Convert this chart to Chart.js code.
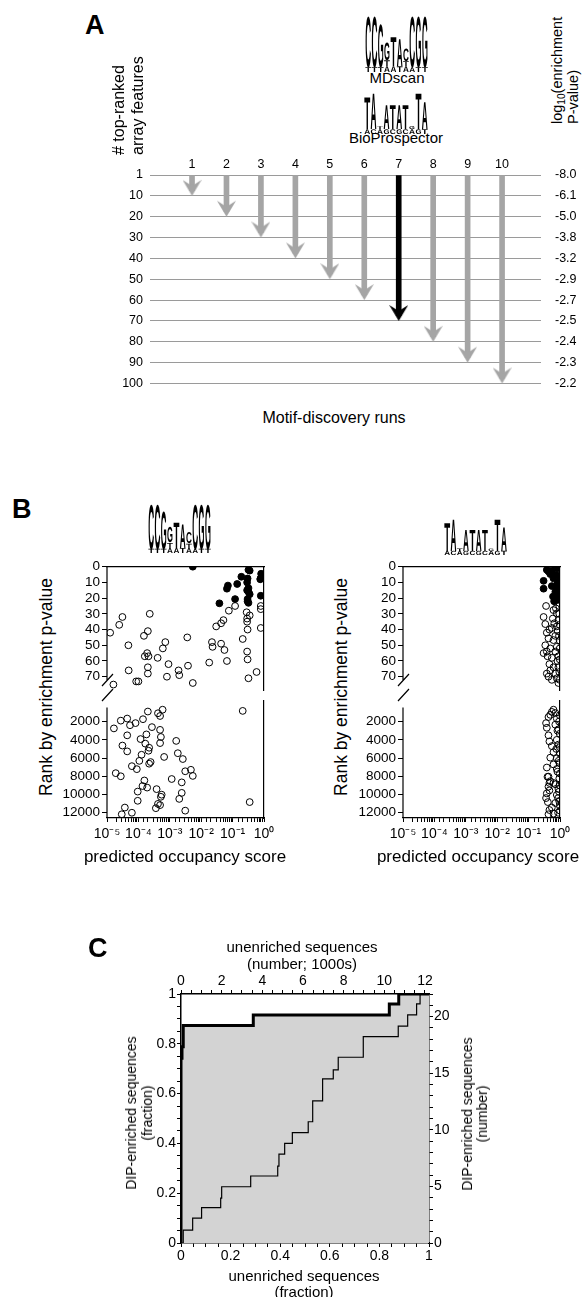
<!DOCTYPE html>
<html><head><meta charset="utf-8">
<script src="https://cdn.jsdelivr.net/npm/chart.js@4.4.1/dist/chart.umd.min.js"></script>
<style>
html,body{margin:0;padding:0;background:#fff;overflow:hidden;}
#page{position:relative;width:582px;height:1297px;font-family:"Liberation Sans",Arial,sans-serif;color:#000;}
canvas{position:absolute;}
.t{position:absolute;white-space:pre;}
.t sub{font-size:0.7em;line-height:0;vertical-align:-0.3em;}
svg.logo{filter:grayscale(1);-webkit-font-smoothing:antialiased;}
</style></head><body><div id="page"></div>
<script>
// ---------------- DATA ----------------
// Panel A
const runs = [1,2,3,4,5,6,7,8,9,10];
const rankTicks = [1,10,20,30,40,50,60,70,80,90,100];
const pValueLabels = ['-8.0','-6.1','-5.0','-3.8','-3.2','-2.9','-2.7','-2.5','-2.4','-2.3','-2.2'];
const arrowEndRank = [10,20,30,40,50,60,70,80,90,100];
const bestRun = 7;

// Panel B  [predicted occupancy score, rank by enrichment p-value]
const rankTicksTop = [0,10,20,30,40,50,60,70];
const rankTicksBottom = [2000,4000,6000,8000,10000,12000];
const mdFilled = [[0.0054,0],[0.32,2],[0.35,2.5],[0.81,4.5],[0.78,7.5],[0.19,6.4],[0.29,10],[0.30,7.5],[0.14,11],[0.071,12],[0.066,14],[0.32,13.6],[0.32,16],[0.35,17.5],[0.12,20.6],[0.30,20.6],[0.30,22],[0.32,23],[0.038,23.3],[0.79,18.5],[0.76,8],[0.29,15]];
const mdOpenTop = [[1.26e-5,42],[2.45e-5,37],[3.1e-5,32],[2.3e-4,30],[4.8e-5,50],[1.5e-4,44],[2.0e-4,41],[4.9e-5,66],[1.9e-4,55],[2.1e-4,57],[1.6e-4,57],[2.0e-4,64],[2.0e-4,68],[8.5e-5,73],[1.0e-4,73],[1.6e-5,75],[4.1e-4,58],[6.0e-4,52],[7.2e-4,48],[9.1e-4,62],[8.1e-4,70],[1.9e-3,66],[2.0e-3,69],[3.6e-3,45],[3.8e-3,63],[5.4e-3,74],[0.018,61],[0.022,48],[0.023,51],[0.043,49],[0.055,53],[0.066,60],[0.030,38],[0.043,36],[0.051,34],[0.076,28],[0.12,25],[0.21,46],[0.28,29],[0.29,33],[0.35,31],[0.29,35],[0.30,40],[0.29,54],[0.30,59],[0.32,71],[0.58,67],[0.79,25],[0.79,27],[0.79,39]];
const mdOpenBottom = [[0.21,830],[2.0e-4,900],[5.9e-4,700],[4.2e-4,1090],[4.9e-4,1390],[2.75e-5,1900],[4.4e-5,1670],[5.4e-5,2400],[8.1e-5,2170],[1.4e-4,1740],[1.66e-5,2750],[2.7e-4,2610],[4.9e-4,2910],[4.4e-5,3510],[1.8e-4,3410],[5.2e-4,3690],[4.9e-4,4360],[1.17e-4,3920],[1.66e-4,4420],[2.2e-4,4870],[2.1e-4,5200],[3.1e-5,4630],[4.4e-5,5270],[1.6e-3,4120],[1.8e-3,5470],[2.6e-3,6110],[6.6e-4,5880],[1.26e-4,5640],[1.07e-4,6310],[2.45e-4,6440],[2.2e-4,6620],[6.2e-5,6890],[8.9e-5,7220],[1.9e-5,7660],[2.75e-5,8000],[3.1e-3,7450],[4.7e-3,7290],[5.4e-3,7960],[1.15e-3,8300],[2.4e-3,8670],[1.55e-4,8460],[1.35e-4,9070],[1.9e-4,9240],[9.5e-5,9680],[3.8e-4,9410],[5.5e-4,10020],[5.2e-4,10250],[2.4e-3,9820],[9.5e-5,10690],[4.2e-4,11030],[4.9e-4,11160],[3.6e-4,11500],[3.7e-5,11430],[2.95e-5,12170],[6.2e-5,12000],[3.1e-3,11770],[2.0e-3,10480],[0.35,10830]];
const bioFilled = [[0.38,2],[0.43,3],[0.49,4.7],[0.55,2.5],[0.71,1],[0.89,1],[0.79,5.3],[0.62,7.4],[0.89,9.5],[0.76,12.7],[0.55,12.3],[0.95,14.9],[0.71,16],[0.98,18],[0.79,20],[0.89,21],[0.65,22],[0.30,9],[0.30,14],[1.0,6.4],[0.98,0],[0.83,11],[0.60,19]];
const bioOpenTop = [[0.36,25],[0.30,32],[0.34,36.5],[0.46,40],[0.38,42],[0.55,39],[0.79,38],[0.71,44],[0.43,45.6],[0.62,46.7],[0.34,50],[0.49,52],[0.79,51],[0.38,54],[0.30,55],[0.40,57],[0.55,58],[0.89,57],[0.46,62],[0.62,64],[0.49,66],[0.38,68],[0.43,70],[0.71,68],[0.79,71],[0.55,72],[0.89,74],[0.62,27.6],[0.79,29.7],[0.89,34],[0.95,30],[0.74,26.5],[0.59,33],[0.85,41],[0.98,47],[0.71,54],[0.98,59],[0.89,64],[0.95,25],[0.98,37],[0.93,44],[0.98,52],[0.95,67],[0.98,72],[0.83,60],[0.66,36]];
const bioOpenBottom = [[0.62,700],[0.55,940],[0.71,1060],[0.49,1260],[0.43,1500],[0.36,2170],[0.38,2680],[0.71,2340],[0.79,1670],[0.89,2850],[0.43,3510],[0.98,3340],[0.46,4180],[0.79,4010],[0.55,4690],[0.89,4530],[0.62,5360],[1.0,5530],[0.49,5960],[0.79,6030],[0.95,6530],[0.62,6700],[0.38,7040],[0.79,7200],[0.43,8040],[0.49,8540],[0.98,7700],[0.71,8880],[0.89,9380],[0.46,9550],[0.36,10390],[0.38,9880],[0.79,10050],[0.40,8060],[0.46,8730],[0.62,8730],[0.43,9140],[0.95,8230],[0.95,10760],[0.41,10830],[0.71,10930],[0.55,11430],[0.46,11700],[1.0,11770],[0.62,12100],[0.43,12170],[0.98,1300],[0.93,2000],[0.98,4800],[0.91,6300],[0.98,9000],[0.93,9700],[0.98,11200],[0.87,12000],[0.83,3000],[0.76,5000],[0.83,7500],[0.87,10400]];

// Panel C (cumulative fraction of DIP-enriched vs fraction of unenriched sequences)
const thickFracX = [0, 0, 0.004, 0.009, 0.2915, 0.84, 0.878, 1];
const thickFracY = [0, 0.742, 0.788, 0.873, 0.916, 0.96, 1.0, 1.0];
const thinFracX = [0, 0.009, 0.047, 0.083, 0.16, 0.164, 0.281, 0.39, 0.395, 0.418, 0.449, 0.513, 0.531, 0.571, 0.614, 0.634, 0.735, 0.876, 0.914, 0.950, 0.964, 1];
const thinFracY = [0, 0.052, 0.10, 0.142, 0.18, 0.226, 0.269, 0.309, 0.357, 0.40, 0.443, 0.487, 0.571, 0.659, 0.695, 0.746, 0.829, 0.871, 0.916, 0.960, 1.0, 1.0];
const fracTickLabels = [0, 0.2, 0.4, 0.6, 0.8, 1];
const numberTickLabels = [0, 2, 4, 6, 8, 10, 12];
const countTickLabels = [0, 5, 10, 15, 20];
const unenrichedThousands = 12.2;
const enrichedTotal = 22;

// Sequence logos (columns, bottom to top: [letter, height])
const mdscanLogo = [
  [['T',5],['C',52]], [['T',5],['C',52]], [['T',5],['G',44]],
  [['A',6],['T',6],['G',18]], [['A',6],['T',30]], [['T',6],['A',28]],
  [['A',6],['T',5],['C',13]], [['A',5],['C',52]], [['T',5],['G',52]], [['T',5],['G',52]]
];
const bioLogo = [
  [['A',5],['T',33]], [['C',5],['A',37]], [['A',5],['T',3]], [['G',5],['A',25]],
  [['C',5],['T',25]], [['G',5],['A',25]], [['C',5],['T',25]], [['A',5],['G',3]],
  [['G',5],['T',37]], [['T',5],['A',28]]
];

// ---------------- HELPERS ----------------
const FONT = '"Liberation Sans", Arial, sans-serif';
Chart.defaults.font.family = FONT;
Chart.defaults.color = '#000';
Chart.defaults.animation = false;
const page = document.getElementById('page');

function addCanvas(left, top, w, h) {
  const c = document.createElement('canvas');
  c.width = w; c.height = h;
  c.style.left = left + 'px'; c.style.top = top + 'px';
  c.style.width = w + 'px'; c.style.height = h + 'px';
  page.appendChild(c);
  return c;
}
function txt(html, o) {
  const d = document.createElement('div');
  d.className = 't';
  d.innerHTML = html;
  d.style.fontSize = o.size + 'px';
  d.style.lineHeight = (o.lh || o.size * 1.15) + 'px';
  if (o.bold) d.style.fontWeight = 'bold';
  d.style.left = o.x + 'px'; d.style.top = o.y + 'px';
  d.style.textAlign = o.align || 'center';
  if (o.mode === 'c') d.style.transform = 'translate(-50%,-50%)';
  else if (o.mode === 'rc') d.style.transform = 'translate(-50%,-50%) rotate(-90deg)';
  else if (o.mode === 'rs') { d.style.transformOrigin = '0 0'; d.style.transform = 'rotate(-90deg)'; }
  page.appendChild(d);
}
function logo(cols, x, y, w, h, unitH) {
  const cw = w / cols.length, s = h / unitH;
  let out = `<svg class="logo" xmlns="http://www.w3.org/2000/svg" width="${w}" height="${h}" style="position:absolute;left:${x}px;top:${y}px;overflow:visible" font-family='${FONT}' font-weight="bold" fill="#000" text-rendering="geometricPrecision">`;
  cols.forEach((col, i) => {
    let yb = h;
    col.forEach(([ch, ht]) => {
      const hh = ht * s;
      out += `<text x="0" y="0" font-size="10" fill="#000" textLength="${(cw * 0.94).toFixed(2)}" lengthAdjust="spacingAndGlyphs" transform="translate(${(i * cw + cw * 0.03).toFixed(2)},${yb.toFixed(2)}) scale(1,${(hh / 7.2).toFixed(3)})">${ch}</text>`;
      yb -= hh;
    });
  });
  out += '</svg>';
  const d = document.createElement('div');
  d.innerHTML = out;
  page.appendChild(d);
}
function arrowHead(color) {
  const c = document.createElement('canvas');
  const w = 19, h = 16;
  c.width = w; c.height = h * 2 + 2;
  const g = c.getContext('2d');
  const tip = h + 1;
  g.fillStyle = color;
  g.beginPath();
  g.moveTo(0, tip - h);
  g.lineTo(w / 2, tip - h + 6);
  g.lineTo(w, tip - h);
  g.lineTo(w / 2, tip);
  g.closePath();
  g.fill();
  return c;
}
const sup = {'-':'⁻','0':'⁰','1':'¹','2':'²','3':'³','4':'⁴','5':'⁵','6':'⁶','7':'⁷','8':'⁸','9':'⁹'};
function logLabel(v) {
  const e = Math.log10(v), r = Math.round(e);
  return Math.abs(e - r) < 1e-6 ? '10' + String(r).split('').map(c => sup[c]).join('') : '';
}
const near = (arr, v) => arr.some(t => Math.abs(t - v) < 1e-6);

// ---------------- PANEL A ----------------
const GREY = '#a5a5a5';
const headGrey = arrowHead(GREY), headBlack = arrowHead('#000');
const endIdx = arrowEndRank.map(r => rankTicks.indexOf(r));
new Chart(addCanvas(0, 150, 582, 255), {
  type: 'bar',
  data: {
    datasets: [
      {
        type: 'bar',
        data: runs.map((r, i) => ({x: r, y: [0, endIdx[i] - 0.25]})),
        backgroundColor: runs.map(r => r === bestRun ? '#000' : GREY),
        barThickness: 5,
        order: 1
      },
      {
        type: 'scatter',
        data: runs.map((r, i) => ({x: r, y: endIdx[i]})),
        pointStyle: runs.map(r => r === bestRun ? headBlack : headGrey),
        pointRadius: 5,
        order: 0
      }
    ]
  },
  options: {
    responsive: false,
    layout: {padding: {top: 0, bottom: 10, left: 0, right: 0}},
    plugins: {legend: {display: false}, tooltip: {enabled: false}},
    scales: {
      x: {
        type: 'linear', position: 'top', min: -0.22, max: 11.13, offset: false,
        grid: {display: false, drawTicks: false, offset: false}, border: {display: false},
        afterBuildTicks: s => { s.ticks = runs.map(v => ({value: v})); },
        ticks: {font: {size: 12.5}, padding: 3, autoSkip: false, maxRotation: 0},
        afterFit: s => { s.height = 25; }
      },
      y: {
        type: 'linear', position: 'left', min: 0, max: rankTicks.length - 1, reverse: true,
        grid: {color: '#9a9a9a', drawTicks: false}, border: {display: false},
        ticks: {stepSize: 1, font: {size: 12.5}, padding: 7, callback: v => rankTicks[v]},
        afterFit: s => { s.width = 150; }
      },
      y2: {
        type: 'linear', position: 'right', min: 0, max: rankTicks.length - 1, reverse: true,
        grid: {display: false, drawTicks: false}, border: {display: false},
        ticks: {stepSize: 1, font: {size: 12.5}, padding: 14, callback: v => pValueLabels[v]},
        afterFit: s => { s.width = 41; }
      }
    }
  }
});

// ---------------- PANEL B ----------------
const breakPlugin = {
  id: 'axisBreak',
  afterDraw(chart, args, opts) {
    const {ctx, chartArea: a} = chart;
    const y = chart.scales.y;
    const y0 = opts.from == null ? a.top : y.getPixelForValue(opts.from);
    const y1 = opts.to == null ? a.bottom : y.getPixelForValue(opts.to);
    ctx.save();
    ctx.strokeStyle = '#000'; ctx.lineWidth = 1.2;
    ctx.beginPath();
    ctx.moveTo(a.left, y0); ctx.lineTo(a.left, y1);
    if (opts.marks) {
      ctx.moveTo(a.left - 5, y1 + 6); ctx.lineTo(a.left + 6, y1 - 6);
      ctx.moveTo(a.left - 5, y1 + 21); ctx.lineTo(a.left + 6, y1 + 9);
    }
    ctx.stroke();
    ctx.restore();
  }
};
const openStyle = {pointStyle: 'circle', pointRadius: 3.4, pointBorderWidth: 1, pointBorderColor: '#000', pointBackgroundColor: 'rgba(255,255,255,0)', showLine: false};
const filledStyle = {pointStyle: 'circle', pointRadius: 3.4, pointBorderWidth: 1, pointBorderColor: '#000', pointBackgroundColor: '#000', showLine: false};
const toXY = arr => arr.map(p => ({x: p[0], y: p[1]}));
const rightBorder = {type: 'linear', position: 'right', min: 0, max: 1, ticks: {display: false}, grid: {display: false}, border: {display: true, color: '#000', width: 1.2}, afterFit: s => { s.width = 22; }};
const leftAxisB = (ticks, min, max) => ({
  type: 'linear', position: 'left', min, max, reverse: true,
  afterBuildTicks: s => { s.ticks = ticks.map(v => ({value: v})); },
  ticks: {callback: v => String(v), font: {size: 13.5}, padding: 2, autoSkip: false},
  grid: {drawOnChartArea: false, tickLength: 5, color: '#000'}, border: {display: false},
  afterFit: s => { s.width = 47; }
});

function rankPanel(left, filled, openTop, openBottom) {
  new Chart(addCanvas(left, 556, 226, 150), {
    type: 'scatter',
    data: {datasets: [{data: toXY(openTop), ...openStyle}, {data: toXY(filled), ...filledStyle}]},
    options: {
      responsive: false,
      layout: {padding: {top: 0, bottom: 16, left: 0, right: 0}},
      plugins: {legend: {display: false}, tooltip: {enabled: false}, axisBreak: {to: 72.1, marks: true}},
      scales: {
        x: {type: 'logarithmic', position: 'top', min: 1e-5, max: 1, ticks: {display: false}, grid: {display: false}, border: {display: true, color: '#000', width: 1.2}, afterFit: s => { s.height = 10.7; }},
        y: leftAxisB(rankTicksTop, 0, 78.46),
        yr: rightBorder
      }
    },
    plugins: [breakPlugin]
  });
  new Chart(addCanvas(left, 690, 226, 162), {
    type: 'scatter',
    data: {datasets: [{data: toXY(openBottom), ...openStyle}]},
    options: {
      responsive: false,
      layout: {padding: 0},
      plugins: {legend: {display: false}, tooltip: {enabled: false}, axisBreak: {from: 455}},
      scales: {
        x: {
          type: 'logarithmic', position: 'bottom', min: 1e-5, max: 1,
          ticks: {callback: logLabel, font: {size: 14}, padding: 4, autoSkip: false, maxRotation: 0},
          grid: {drawOnChartArea: false, tickLength: 4, color: '#000'},
          border: {display: true, color: '#000', width: 1.2},
          afterFit: s => { s.height = 34; }
        },
        y: leftAxisB(rankTicksBottom, -354, 12576),
        yr: rightBorder
      }
    },
    plugins: [breakPlugin]
  });
}
rankPanel(60, mdFilled, mdOpenTop, mdOpenBottom);
rankPanel(356, bioFilled, bioOpenTop, bioOpenBottom);

// ---------------- PANEL C ----------------
const axisC = {grid: {drawOnChartArea: false, tickLength: 4, color: '#000'}, border: {display: true, color: '#000', width: 1.5}};
new Chart(addCanvas(90, 920, 440, 377), {
  type: 'line',
  data: {
    datasets: [
      {data: thickFracX.map((x, i) => ({x, y: thickFracY[i]})), stepped: true, borderColor: '#000', borderWidth: 3, pointRadius: 0, fill: 'origin', backgroundColor: '#d3d3d3', order: 0},
      {data: thinFracX.map((x, i) => ({x, y: thinFracY[i]})), stepped: true, borderColor: '#000', borderWidth: 1.2, pointRadius: 0, fill: false, order: 1}
    ]
  },
  options: {
    responsive: false,
    layout: {padding: 0},
    plugins: {legend: {display: false}, tooltip: {enabled: false}, filler: {drawTime: 'beforeDatasetsDraw'}},
    scales: {
      x: {type: 'linear', position: 'bottom', min: 0, max: 1, ...axisC,
        ticks: {stepSize: 0.05, autoSkip: false, maxRotation: 0, font: {size: 14}, padding: 1, callback: v => near(fracTickLabels, v) ? String(+v.toFixed(1)) : ''},
        afterFit: s => { s.height = 54; }},
      x2: {type: 'linear', position: 'top', min: 0, max: unenrichedThousands, ...axisC,
        ticks: {stepSize: 0.5, includeBounds: false, autoSkip: false, maxRotation: 0, font: {size: 14}, padding: 0, callback: v => near(numberTickLabels, v) ? String(Math.round(v)) : ''},
        afterFit: s => { s.height = 74; }},
      y: {type: 'linear', position: 'left', min: 0, max: 1, ...axisC,
        ticks: {stepSize: 0.05, autoSkip: false, font: {size: 14}, padding: 1, callback: v => near(fracTickLabels, v) ? String(+v.toFixed(1)) : ''},
        afterFit: s => { s.width = 91; }},
      y2: {type: 'linear', position: 'right', min: 0, max: enrichedTotal, ...axisC,
        ticks: {stepSize: 1, autoSkip: false, font: {size: 14}, padding: 1, callback: v => near(countTickLabels, v) ? String(v) : ''},
        afterFit: s => { s.width = 101; }}
    }
  }
});

// ---------------- TEXT & LOGOS ----------------
txt('A', {x: 85, y: 9.5, size: 27, bold: true, align: 'left'});
txt('# top-ranked\narray features', {x: 108.5, y: 155, size: 16, lh: 19, mode: 'rs', align: 'left'});
txt('log<sub>10</sub>(enrichment\nP-value)', {x: 549, y: 124, size: 14.5, lh: 16, mode: 'rs', align: 'left'});
logo(mdscanLogo, 365, 15, 63, 57, 57);
txt('MDscan', {x: 397, y: 78, size: 15, mode: 'c'});
logo(bioLogo, 364, 92, 64, 42, 42);
txt('BioProspector', {x: 396, y: 138, size: 15, mode: 'c'});
txt('Motif-discovery runs', {x: 334, y: 418, size: 16, mode: 'c'});

txt('B', {x: 12, y: 493.5, size: 27, bold: true, align: 'left'});
logo(mdscanLogo, 148, 503, 63, 50, 57);
logo(bioLogo, 444, 518, 63, 37, 42);
txt('Rank by enrichment p-value', {x: 46, y: 687, size: 17.5, mode: 'rc'});
txt('Rank by enrichment p-value', {x: 341, y: 687, size: 17.5, mode: 'rc'});
txt('predicted occupancy score', {x: 185, y: 857, size: 17, mode: 'c'});
txt('predicted occupancy score', {x: 478, y: 857, size: 17, mode: 'c'});

txt('C', {x: 88, y: 933, size: 27, bold: true, align: 'left'});
txt('unenriched sequences\n(number; 1000s)', {x: 302, y: 955, size: 15, lh: 16.5, mode: 'c'});
txt('unenriched sequences\n(fraction)', {x: 304, y: 1283.5, size: 15, lh: 16.5, mode: 'c'});
txt('DIP-enriched sequences\n(fraction)', {x: 139, y: 1113, size: 14, lh: 16, mode: 'rc'});
txt('DIP-enriched sequences\n(number)', {x: 475, y: 1114, size: 14, lh: 15, mode: 'rc'});
</script></body></html>
